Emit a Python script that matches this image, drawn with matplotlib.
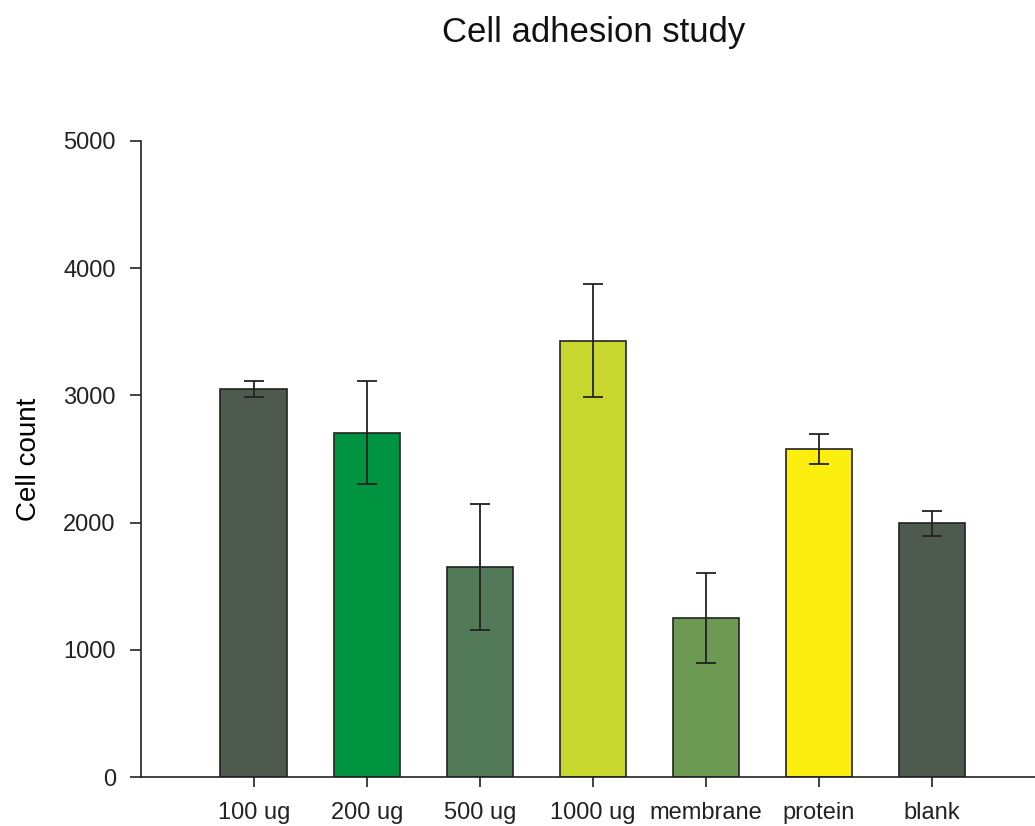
import numpy as np
import matplotlib
matplotlib.use("Agg")
import matplotlib.pyplot as plt

plt.rcParams['font.family'] = ['Liberation Sans', 'DejaVu Sans']

groups = ['100 ug', '200 ug', '500 ug', '1000 ug', 'membrane', 'protein', 'blank']
counts = [3050, 2705, 1650, 3430, 1250, 2580, 1995]
errors = [60, 405, 495, 445, 355, 118, 97]
colors = ['#4f5a4f', '#009440', '#527a58', '#c8d72e', '#6d9a52', '#fcee0f', '#4f5a4f']

fig = plt.figure(figsize=(10.35, 8.26), dpi=100)
ax = fig.add_axes([0.136, 0.0593, 0.864, 0.7700])

x = np.arange(len(groups))
ax.bar(x, counts, width=0.59, color=colors, edgecolor='#222222', linewidth=1.2,
       yerr=errors, error_kw=dict(ecolor='#222222', elinewidth=1.3, capsize=7, capthick=1.3),
       zorder=2)

ax.set_xlim(-1.0, 6.91)
ax.set_ylim(0, 5000)
ax.set_yticks([0, 1000, 2000, 3000, 4000, 5000])
ax.set_xticks(x)
ax.set_xticklabels(groups)
ax.tick_params(axis='both', direction='out', length=8, width=1.2, labelsize=17,
               colors='#222222', pad=10)
ax.tick_params(axis='x', length=7, pad=11)

for s in ['top', 'right']:
    ax.spines[s].set_visible(False)
for s in ['left', 'bottom']:
    ax.spines[s].set_linewidth(1.2)
    ax.spines[s].set_color('#222222')

ax.set_ylabel('Cell count', fontsize=20, labelpad=15)
fig.text(0.5734, 0.949, 'Cell adhesion study', fontsize=25, ha='center', va='baseline',
         color='#111111')

fig.savefig('out.png', dpi=100)
